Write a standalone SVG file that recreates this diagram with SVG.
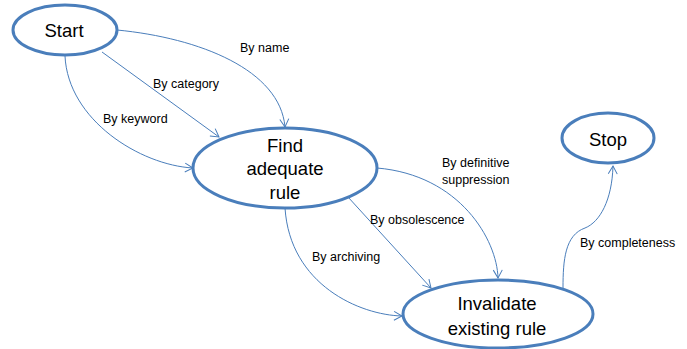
<svg xmlns="http://www.w3.org/2000/svg" width="687" height="349" viewBox="0 0 687 349">
<style>
.node ellipse{fill:#fff;stroke:#4a7ebb;stroke-width:3}
.node text{font-family:"Liberation Sans",Arial,sans-serif;font-size:18.5px;fill:#000;text-anchor:middle}
.edges path{fill:none;stroke:#4a7ebb;stroke-width:1}
.lbl{font-family:"Liberation Sans",Arial,sans-serif;font-size:12.5px;fill:#000}
</style>
<defs>
<marker id="arr" markerUnits="userSpaceOnUse" markerWidth="12" markerHeight="12" refX="9" refY="5" orient="auto" viewBox="0 0 12 10">
<path d="M1,0.5 L9,5 L1,9.5" fill="none" stroke="#4a7ebb" stroke-width="1"/>
</marker>
</defs>
<rect width="687" height="349" fill="#fff"/>
<g class="edges">
<path d="M117,30 C200,38 280,70 285,127" marker-end="url(#arr)"/>
<path d="M102,52 L219,137" marker-end="url(#arr)"/>
<path d="M65,56 C68,120 140,165 193,168" marker-end="url(#arr)"/>
<path d="M377,168 C460,175 497,240 498,278" marker-end="url(#arr)"/>
<path d="M348,197 L431,288" marker-end="url(#arr)"/>
<path d="M285,208 C290,285 360,315 402,316" marker-end="url(#arr)"/>
<path d="M563,288 C563,260 565,235 585,228 C600,222 612,200 613,166" marker-end="url(#arr)"/>
<text class="lbl" x="240" y="52">By name</text>
<text class="lbl" x="153" y="88">By category</text>
<text class="lbl" x="103" y="123">By keyword</text>
<text class="lbl" x="442" y="167">By definitive</text>
<text class="lbl" x="442" y="184">suppression</text>
<text class="lbl" x="370" y="224">By obsolescence</text>
<text class="lbl" x="312" y="261">By archiving</text>
<text class="lbl" x="580" y="247">By completeness</text>
</g>
<g id="start" class="node">
<ellipse cx="65" cy="30" rx="52" ry="25"/>
<text x="64" y="37">Start</text>
</g>
<g id="find" class="node">
<ellipse cx="285" cy="168" rx="92" ry="40"/>
<text x="285" y="152">Find</text>
<text x="285" y="175">adequate</text>
<text x="285" y="199">rule</text>
</g>
<g id="invalidate" class="node">
<ellipse cx="498" cy="314" rx="95" ry="34"/>
<text x="497" y="310">Invalidate</text>
<text x="497" y="335">existing rule</text>
</g>
<g id="stop" class="node">
<ellipse cx="608" cy="138" rx="46" ry="25"/>
<text x="608" y="146">Stop</text>
</g>
</svg>
